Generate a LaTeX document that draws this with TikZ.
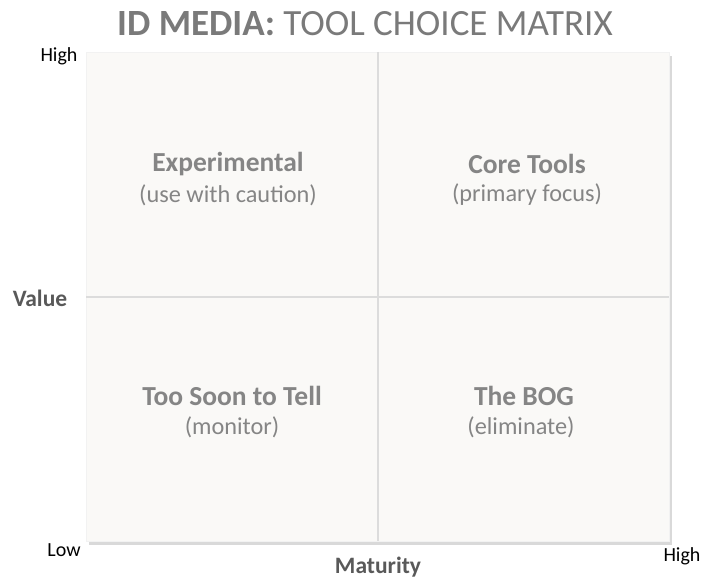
\documentclass[tikz,border=0pt]{standalone}
\usepackage{fontspec}
\setmainfont{Carlito}
\usetikzlibrary{shadows}

\definecolor{titlegray}{HTML}{7A7A7A}
\definecolor{labelgray}{HTML}{858585}
\definecolor{axisgray}{HTML}{595959}
\definecolor{boxfill}{HTML}{FAF9F7}
\definecolor{gridgray}{HTML}{DCDCDC}

\tikzset{
  quadname/.style={text=labelgray, font=\fontsize{27.5}{31}\selectfont\bfseries},
  quadnote/.style={text=labelgray, font=\fontsize{24.3}{28}\selectfont},
  axisname/.style={text=axisgray, font=\fontsize{23.5}{27}\selectfont\bfseries},
  tick/.style={text=black, font=\fontsize{20}{24}\selectfont}
}

\begin{document}
\begin{tikzpicture}[x=1pt, y=-1pt]
    \useasboundingbox (0,0) rectangle (702,578);

    % Title
    \node[text=titlegray, font=\fontsize{37}{41}\selectfont] (title) at (365,24)
        {\textbf{ID MEDIA:} TOOL CHOICE MATRIX};

    % Matrix panel
    \node[draw=gray!10, fill=boxfill, minimum width=583pt, minimum height=489pt,
          inner sep=0pt, anchor=north west,
          drop shadow={shadow xshift=3pt, shadow yshift=-4pt, opacity=0.3}]
        (panel) at (86,52) {};

    % Dividers
    \coordinate (top) at (378,52);
    \coordinate (bottom) at (378,541);
    \coordinate (left) at (86,297);
    \coordinate (right) at (669,297);
    \draw[gridgray, line width=2pt] (top) -- (bottom);
    \draw[gridgray, line width=2pt] (left) -- (right);

    % Quadrants
    \node[quadname] (exp) at (228,164) {Experimental};
    \node[quadnote] (expnote) at (228,195) {(use with caution)};
    \node[quadname] (core) at (527,164) {Core Tools};
    \node[quadnote] (corenote) at (527,195) {(primary focus)};
    \node[quadname] (soon) at (232,396) {Too Soon to Tell};
    \node[quadnote] (soonnote) at (232,427) {(monitor)};
    \node[quadname] (bog) at (524,396) {The BOG};
    \node[quadnote] (bognote) at (521,427) {(eliminate)};

    % Axes
    \node[axisname] (value) at (40,298) {Value};
    \node[axisname] (maturity) at (378,567) {Maturity};
    \node[tick] (vhigh) at (59,56) {High};
    \node[tick] (low) at (64,550) {Low};
    \node[tick] (mhigh) at (682,556) {High};
\end{tikzpicture}
\end{document}
